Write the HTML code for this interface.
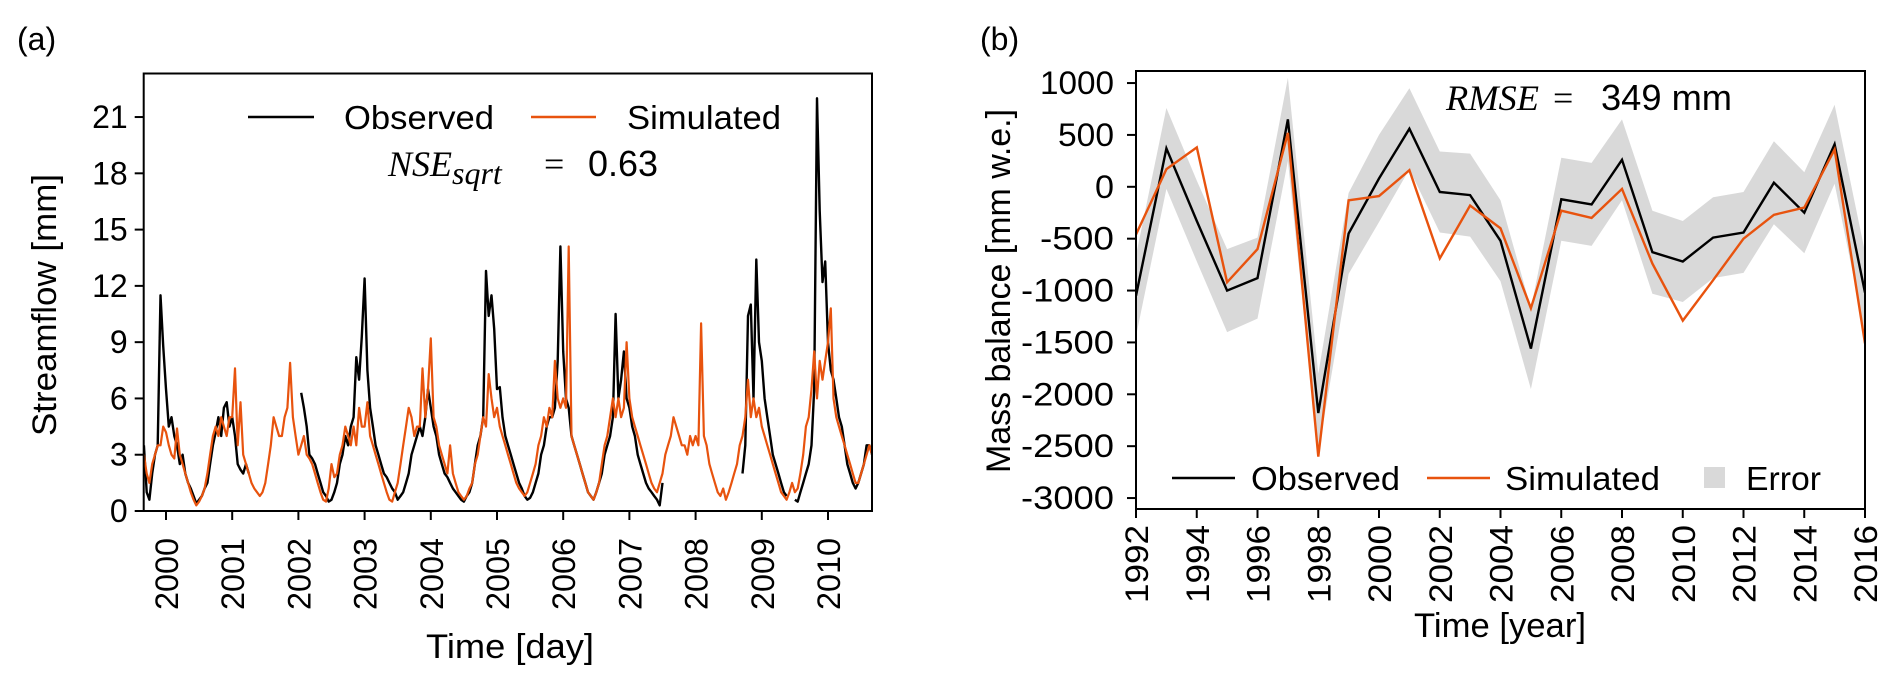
<!DOCTYPE html>
<html><head><meta charset="utf-8"><style>
html,body{margin:0;padding:0;background:#fff;}
svg{display:block;font-family:"Liberation Sans",Arial,sans-serif;}
</style></head><body>
<svg id="fig" width="1892" height="683" viewBox="0 0 1892 683" xmlns="http://www.w3.org/2000/svg">
<g id="pa"></g>
<g id="pb"></g>
</svg>
<script>
// ---------- Panel (a) data: half-monthly samples (1/24 yr), 1999 starts at step 16 ----------
const obs1999=[3.5,1.0,0.6,2.0,3.0,3.5,11.5,8.8];
const obs2000=[6.5,4.5,5.0,4.0,3.5,2.5,3.0,2.0,1.5,1.2,0.8,0.4,0.6,0.8,1.2,1.5,2.5,3.5,4.2,5.0,4.0,5.5,5.8,4.5];
const obs2001=[5.0,4.0,2.5,2.2,2.0,2.5,2.0,null,null,null,null,null,null,null,null,null,null,null,null,null,null,null,null,null];
const obs2002=[null,6.3,5.5,4.5,3.0,2.8,2.5,2.0,1.5,1.0,0.8,0.5,0.6,1.0,1.5,2.5,3.0,4.0,3.5,4.5,5.0,8.2,7.0,9.3];
const obs2003=[12.4,7.5,5.5,4.5,3.5,3.0,2.5,2.0,1.8,1.5,1.2,1.0,0.6,0.8,1.0,1.5,2.0,3.0,3.5,4.0,4.5,4.0,5.0,6.5];
const obs2004=[5.5,4.5,4.0,3.0,2.5,2.0,1.8,1.5,1.2,1.0,0.8,0.6,0.5,0.8,1.0,1.5,2.5,3.5,4.0,5.0,12.8,10.4,11.5,9.7];
const obs2005=[6.5,6.6,5.0,4.0,3.5,3.0,2.5,2.0,1.5,1.2,0.8,0.6,0.7,1.0,1.5,2.0,3.0,3.5,4.5,5.0,5.0,5.5,8.0,14.1];
const obs2006=[8.5,6.0,5.5,4.0,3.5,3.0,2.5,2.0,1.5,1.0,0.8,0.6,1.0,1.5,2.0,3.0,3.5,4.0,5.0,10.5,6.0,7.0,8.5,6.0];
const obs2007=[5.5,4.5,4.0,3.0,2.5,2.0,1.5,1.2,1.0,0.8,0.6,0.3,1.5,null,null,null,null,null,null,null,null,null,null,null];
const obs2008=[null,null,null,null,null,null,null,null,null,null,null,null,null,null,null,null,null,2.0,3.5,10.4,11.0,6.0,13.4,9.0];
const obs2009=[8.0,6.0,5.0,4.0,3.0,2.5,2.0,1.5,1.0,0.8,null,null,0.6,0.5,1.0,1.5,2.0,2.5,3.5,6.5,22.0,16.0,12.2,13.3];
const obs2010=[9.0,7.5,7.0,6.0,5.0,4.5,3.5,2.5,2.0,1.5,1.2,1.5,2.0,2.5,3.5,3.5,3.0];

const sim1999=[3.0,2.0,1.5,2.5,3.0,3.5,3.5,4.5];
const sim2000=[4.2,3.5,3.0,2.8,4.4,3.0,2.5,2.0,1.5,1.0,0.6,0.3,0.5,0.8,1.2,2.0,3.0,4.0,4.5,4.0,5.0,4.5,4.0,5.0];
const sim2001=[5.0,7.6,3.5,5.8,3.0,2.5,2.0,1.5,1.2,1.0,0.8,1.0,1.5,2.5,3.5,5.0,4.5,4.0,4.0,5.0,5.5,7.9,5.0,4.0];
const sim2002=[3.0,3.5,4.0,3.0,2.8,2.5,2.0,1.5,1.0,0.6,0.5,1.2,2.5,1.8,2.0,3.0,3.5,4.5,4.0,3.5,4.5,3.5,5.5,4.5];
const sim2003=[4.5,5.8,4.0,3.5,3.0,2.5,2.0,1.5,1.0,0.6,0.5,1.0,1.5,2.5,3.5,4.5,5.5,5.0,4.0,4.5,4.5,7.6,5.0,6.5];
const sim2004=[9.2,5.0,4.5,3.5,3.0,2.5,2.0,3.5,2.0,1.5,1.0,0.8,0.6,0.8,1.2,1.5,2.5,3.0,4.0,5.0,4.5,7.3,6.0,5.0];
const sim2005=[5.5,4.5,4.0,3.5,3.0,2.5,2.0,1.5,1.2,1.0,0.8,1.0,1.5,2.0,2.5,3.5,4.0,5.0,4.5,5.5,5.0,8.0,6.0,5.5];
const sim2006=[6.0,5.5,14.1,4.0,3.5,3.0,2.5,2.0,1.5,1.0,0.8,0.6,1.0,1.5,2.5,3.5,4.0,5.0,6.0,5.0,6.0,5.0,5.5,9.0];
const sim2007=[6.0,5.0,4.5,4.0,3.5,3.0,2.5,2.0,1.5,1.2,1.0,1.5,2.0,3.0,3.5,4.0,5.0,4.5,4.0,3.5,3.5,3.0,4.0,3.5];
const sim2008=[4.0,3.5,10.0,4.0,3.5,2.5,2.0,1.5,1.0,0.8,1.2,0.6,1.0,1.5,2.0,2.5,3.5,4.0,5.0,7.0,5.0,6.0,5.0,5.5];
const sim2009=[4.5,4.0,3.5,3.0,2.5,2.0,1.5,1.0,0.8,0.6,1.0,1.5,1.0,1.2,2.0,3.0,4.5,5.0,6.5,8.5,6.0,8.0,7.0,8.0];
const sim2010=[9.0,10.8,6.0,5.0,4.5,4.0,3.5,3.0,2.5,2.0,1.5,1.5,2.0,2.5,3.0,3.5,3.0];

const aYTicks=[0,3,6,9,12,15,18,21];
const aXTicks=[2000,2001,2002,2003,2004,2005,2006,2007,2008,2009,2010];

// ---------- Panel (b) data ----------
const bYears=[1992,1993,1994,1995,1996,1997,1998,1999,2000,2001,2002,2003,2004,2005,2006,2007,2008,2009,2010,2011,2012,2013,2014,2015,2016];
const bObserved=[-1050,370,-330,-1000,-880,650,-2180,-450,80,560,-50,-80,-520,-1560,-120,-170,260,-630,-720,-490,-440,40,-250,410,-1020];
const bSimulated=[-460,170,380,-920,-600,520,-2600,-130,-90,160,-690,-180,-400,-1170,-230,-300,-20,-740,-1290,-900,-500,-270,-200,360,-1510];
const bError=[390,390,390,400,390,400,380,390,420,390,390,400,390,390,400,400,390,400,390,390,390,400,390,380,390];
const bYTicks=[1000,500,0,-500,-1000,-1500,-2000,-2500,-3000];
const bXTicks=[1992,1994,1996,1998,2000,2002,2004,2006,2008,2010,2012,2014,2016];

const NS="http://www.w3.org/2000/svg";
function mk(parent,tag,attrs,text){const e=document.createElementNS(NS,tag);for(const k in attrs)e.setAttribute(k,attrs[k]);if(text!==undefined)e.textContent=text;parent.appendChild(e);return e;}
const SG='spacingAndGlyphs';

// ================= Panel A =================
(function(){
const g=document.getElementById('pa');
const L=143.7,R=872,T=73.5,B=511;
const xs=t=>166+(t-2000)*66.2;
const ys=v=>511-v*18.76;
const obs=[].concat(obs1999,obs2000,obs2001,obs2002,obs2003,obs2004,obs2005,obs2006,obs2007,obs2008,obs2009,obs2010);
const sim=[].concat(sim1999,sim2000,sim2001,sim2002,sim2003,sim2004,sim2005,sim2006,sim2007,sim2008,sim2009,sim2010);
const t0=1999+16/24;
function path(arr){let d='',pen=false;arr.forEach((v,i)=>{if(v===null){pen=false;return;}const x=xs(t0+i/24),y=ys(v);d+=(pen?'L':'M')+x.toFixed(1)+' '+y.toFixed(1);pen=true;});return d;}
const cp=mk(g,'clipPath',{id:'clipA'});mk(cp,'rect',{x:L,y:T,width:R-L,height:B-T});
const po=mk(g,'path',{d:path(obs),fill:'none',stroke:'#000','stroke-width':2.4,'stroke-linejoin':'round','clip-path':'url(#clipA)'});


const ps=mk(g,'path',{d:path(sim),fill:'none',stroke:'#e8530e','stroke-width':2.2,'stroke-linejoin':'round','clip-path':'url(#clipA)'});


const fr=mk(g,'rect',{x:L,y:T,width:R-L,height:B-T,fill:'none',stroke:'#000','stroke-width':2});


aYTicks.forEach(v=>{const y=ys(v);
 mk(g,'line',{x1:L-9,x2:L,y1:y,y2:y,stroke:'#000','stroke-width':2});
 const t=mk(g,'text',{x:L-16,y:y+11,'text-anchor':'end','font-size':32},String(v));
 
 });
aXTicks.forEach(v=>{const x=xs(v);
 mk(g,'line',{x1:x,x2:x,y1:B,y2:B+9,stroke:'#000','stroke-width':2});
 const t=mk(g,'text',{x:0,y:0,'text-anchor':'end','font-size':32,textLength:72,lengthAdjust:SG,transform:`translate(${x+12},${B+27}) rotate(-90)`},String(v));
 
 });
let t=mk(g,'text',{x:0,y:0,'text-anchor':'middle','font-size':34,transform:'translate(56,305) rotate(-90)',textLength:262,lengthAdjust:SG},'Streamflow [mm]');


t=mk(g,'text',{x:510,y:658,'text-anchor':'middle','font-size':34,textLength:168,lengthAdjust:SG},'Time [day]');


t=mk(g,'text',{x:17,y:50,'font-size':32},'(a)');


// legend
let l=mk(g,'line',{x1:248,x2:314,y1:117,y2:117,stroke:'#000','stroke-width':2.4});


t=mk(g,'text',{x:344,y:129,'font-size':33,textLength:150,lengthAdjust:SG},'Observed');


l=mk(g,'line',{x1:531,x2:596,y1:117,y2:117,stroke:'#e8530e','stroke-width':2.4});


t=mk(g,'text',{x:627,y:129,'font-size':33,textLength:154,lengthAdjust:SG},'Simulated');


t=mk(g,'text',{x:388,y:176,'font-size':36,'font-family':'Liberation Serif, serif','font-style':'italic'});


mk(t,'tspan',{},'NSE');
mk(t,'tspan',{dy:8,'font-size':32},'sqrt');
mk(t,'tspan',{dy:-8,x:544,'font-style':'normal'},'=');
mk(t,'tspan',{x:588,'font-style':'normal','font-family':'Liberation Sans, sans-serif',textLength:70,lengthAdjust:SG},'0.63');
})();

// ================= Panel B =================
(function(){
const g=document.getElementById('pb');
const L=1136,R=1865,T=71,B=509;
const xs=yr=>1136+(yr-1992)*(729/24);
const ys=v=>186.8-v*0.10375;
const cp=mk(g,'clipPath',{id:'clipB'});mk(cp,'rect',{x:L,y:T,width:R-L,height:B-T});
let up='',lo='';
bYears.forEach((yr,i)=>{up+=(i?'L':'M')+xs(yr).toFixed(1)+' '+ys(bObserved[i]+bError[i]).toFixed(1);});
for(let i=bYears.length-1;i>=0;i--){lo+='L'+xs(bYears[i]).toFixed(1)+' '+ys(bObserved[i]-bError[i]).toFixed(1);}
const band=mk(g,'path',{d:up+lo+'Z',fill:'#d9d9d9','clip-path':'url(#clipB)'});


function line(arr){return arr.map((v,i)=>(i?'L':'M')+xs(bYears[i]).toFixed(1)+' '+ys(v).toFixed(1)).join('');}
const po=mk(g,'path',{d:line(bObserved),fill:'none',stroke:'#000','stroke-width':2.4,'clip-path':'url(#clipB)'});


const ps=mk(g,'path',{d:line(bSimulated),fill:'none',stroke:'#e8530e','stroke-width':2.4,'clip-path':'url(#clipB)'});


const fr=mk(g,'rect',{x:L,y:T,width:R-L,height:B-T,fill:'none',stroke:'#000','stroke-width':2});


bYTicks.forEach(v=>{const y=ys(v);
 mk(g,'line',{x1:L-9,x2:L,y1:y,y2:y,stroke:'#000','stroke-width':2});
 const s=String(v);
 const t=mk(g,'text',{x:L-22,y:y+11,'text-anchor':'end','font-size':32,textLength:(s.length*18.5).toFixed(0),lengthAdjust:SG},s);
 
 });
bXTicks.forEach(v=>{const x=xs(v);
 mk(g,'line',{x1:x,x2:x,y1:B,y2:B+9,stroke:'#000','stroke-width':2});
 const t=mk(g,'text',{x:0,y:0,'text-anchor':'end','font-size':32,textLength:78,lengthAdjust:SG,transform:`translate(${x+12},${B+16}) rotate(-90)`},String(v));
 
 });
let t=mk(g,'text',{x:0,y:0,'text-anchor':'middle','font-size':34,transform:'translate(1010,291) rotate(-90)',textLength:364,lengthAdjust:SG},'Mass balance [mm w.e.]');


t=mk(g,'text',{x:1500,y:637,'text-anchor':'middle','font-size':34,textLength:172,lengthAdjust:SG},'Time [year]');


t=mk(g,'text',{x:980,y:50,'font-size':32},'(b)');


t=mk(g,'text',{x:1446,y:110,'font-size':36,'font-family':'Liberation Serif, serif','font-style':'italic'});


mk(t,'tspan',{textLength:93,lengthAdjust:SG},'RMSE');
mk(t,'tspan',{x:1553,'font-style':'normal'},'=');
mk(t,'tspan',{x:1601,'font-style':'normal','font-family':'Liberation Sans, sans-serif',textLength:131,lengthAdjust:SG},'349 mm');
// legend
let l=mk(g,'line',{x1:1172,x2:1235,y1:478,y2:478,stroke:'#000','stroke-width':2.4});


t=mk(g,'text',{x:1251,y:490,'font-size':33,textLength:149,lengthAdjust:SG},'Observed');


l=mk(g,'line',{x1:1427,x2:1490,y1:478,y2:478,stroke:'#e8530e','stroke-width':2.4});


t=mk(g,'text',{x:1505,y:490,'font-size':33,textLength:155,lengthAdjust:SG},'Simulated');


l=mk(g,'rect',{x:1704,y:467,width:21,height:21,fill:'#d9d9d9'});


t=mk(g,'text',{x:1746,y:490,'font-size':33,textLength:75,lengthAdjust:SG},'Error');


})();
</script>
</body></html>
